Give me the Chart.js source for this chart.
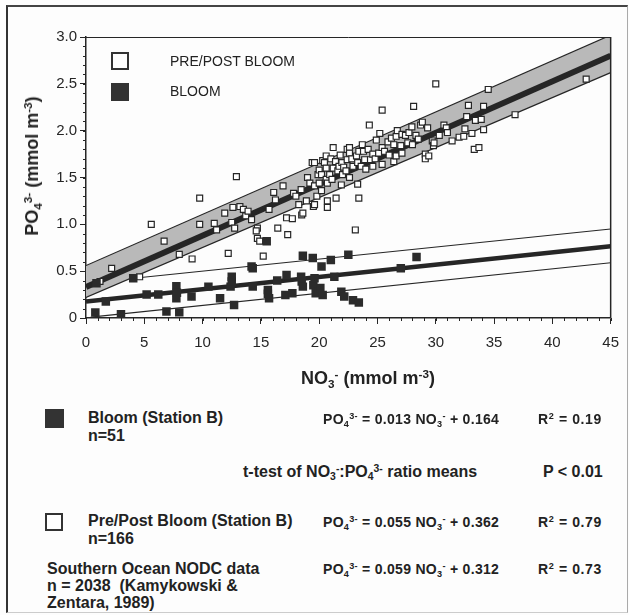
<!DOCTYPE html>
<html>
<head>
<meta charset="utf-8">
<script src="https://cdn.jsdelivr.net/npm/chart.js@4.4.0/dist/chart.umd.min.js"></script>
<style>
body { margin: 0; background: #fff; }
#wrap { position: relative; width: 629px; height: 615px; background: #fdfdfd; font-family: 'Liberation Sans', Arial, sans-serif; color: #222; overflow: hidden; }
#frame { position: absolute; left: 6px; top: 5px; width: 619px; height: 605px; border-left: 2px solid #333; border-top: 2px solid #444; border-right: 1px solid #aaa; border-bottom: 1px solid #ccc; }
canvas { position: absolute; left: 0; top: 0; }
.t { position: absolute; white-space: nowrap; line-height: 18px; }
.b { font-weight: bold; font-size: 16px; }
.eq { font-weight: bold; font-size: 14px; letter-spacing: 0.3px; }
.r { font-weight: bold; font-size: 14px; letter-spacing: 0.6px; }
.lg { font-size: 14px; }
.title { font-weight: bold; font-size: 18px; }
sub, sup { font-size: 65%; line-height: 0; position: relative; vertical-align: baseline; }
sup { top: -0.5em; }
sub { bottom: -0.3em; }
.sq { position: absolute; box-sizing: border-box; }
</style>
</head>
<body>
<div id="wrap">
  <div id="frame"></div>
  <canvas id="chart" width="629" height="400"></canvas>

  <div class="sq" style="left:111px;top:52px;width:18px;height:18px;border:2px solid #333;background:#fff"></div>
  <div class="t lg" style="left:170px;top:52px">PRE/POST BLOOM</div>
  <div class="sq" style="left:111px;top:83px;width:18px;height:18px;background:#333"></div>
  <div class="t lg" style="left:170px;top:82px">BLOOM</div>

  <div class="t title" style="left:32px;top:166px;transform:translate(-50%,-50%) rotate(-90deg)">PO<sub>4</sub><sup>3-</sup> (mmol m<sup>-3</sup>)</div>
  <div class="t title" style="left:368px;top:378px;transform:translate(-50%,-50%)">NO<sub>3</sub><sup>-</sup> (mmol m<sup>-3</sup>)</div>

  <div class="sq" style="left:45px;top:409px;width:19px;height:19px;background:#333"></div>
  <div class="t b" style="left:88px;top:409px">Bloom (Station B)</div>
  <div class="t b" style="left:88px;top:427px">n=51</div>
  <div class="t eq" style="left:323px;top:410px">PO<sub>4</sub><sup>3-</sup> = 0.013 NO<sub>3</sub><sup>-</sup> + 0.164</div>
  <div class="t r" style="left:538px;top:410px">R<sup>2</sup> = 0.19</div>

  <div class="t b" style="left:243px;top:463px">t-test of NO<sub>3</sub><sup>-</sup>:PO<sub>4</sub><sup>3-</sup> ratio means</div>
  <div class="t b" style="left:543px;top:463px">P &lt; 0.01</div>

  <div class="sq" style="left:45px;top:513px;width:18px;height:18px;border:2px solid #333;background:#fff"></div>
  <div class="t b" style="left:88px;top:512px">Pre/Post Bloom (Station B)</div>
  <div class="t b" style="left:88px;top:530px">n=166</div>
  <div class="t eq" style="left:323px;top:513px">PO<sub>4</sub><sup>3-</sup> = 0.055 NO<sub>3</sub><sup>-</sup> + 0.362</div>
  <div class="t r" style="left:538px;top:513px">R<sup>2</sup> = 0.79</div>

  <div class="t b" style="left:47px;top:560px">Southern Ocean NODC data</div>
  <div class="t b" style="left:47px;top:577px">n = 2038&nbsp;&nbsp;(Kamykowski &amp;</div>
  <div class="t b" style="left:47px;top:594px">Zentara, 1989)</div>
  <div class="t eq" style="left:323px;top:560px">PO<sub>4</sub><sup>3-</sup> = 0.059 NO<sub>3</sub><sup>-</sup> + 0.312</div>
  <div class="t r" style="left:538px;top:560px">R<sup>2</sup> = 0.73</div>
</div>
<script>
// NO3 (x) vs PO4 (y)
const bloomPoints = [
  [0.8,0.06],[0.9,0.37],[1.7,0.175],[3.0,0.04],[4.05,0.425],[5.2,0.25],[6.2,0.25],[6.9,0.07],
  [7.75,0.34],[7.75,0.21],[7.8,0.27],[8.0,0.06],[9.05,0.23],[10.5,0.335],[11.5,0.21],[12.4,0.335],
  [12.5,0.39],[12.5,0.44],[12.7,0.14],[14.2,0.55],[14.3,0.53],[14.3,0.335],[15.5,0.82],[15.6,0.26],
  [15.6,0.30],[15.7,0.21],[16.4,0.40],[17.1,0.245],[17.2,0.46],[17.7,0.265],[18.45,0.44],[18.5,0.39],
  [18.6,0.665],[18.6,0.335],[19.45,0.64],[19.5,0.35],[19.6,0.425],[19.7,0.265],[20.0,0.28],[20.1,0.32],
  [20.2,0.55],[20.3,0.245],[21.0,0.62],[21.3,0.44],[21.9,0.28],[22.15,0.23],[22.5,0.675],[22.9,0.19],
  [23.4,0.165],[27.0,0.53],[28.35,0.65]
];
const prePoints = [
  [1.2,0.39],[2.2,0.53],[4.6,0.44],[5.6,1.00],[6.7,0.82],[8.0,0.68],[9.1,0.63],[9.75,1.28],[9.75,1.00],
  [11.0,1.01],[11.2,0.94],[11.9,1.12],[12.2,0.69],[12.5,1.02],[12.6,1.18],[12.75,0.96],[12.9,1.51],
  [13.2,1.19],[13.5,1.16],[13.7,1.09],[13.9,1.14],[14.2,1.05],[14.7,0.96],[14.6,0.93],[14.7,0.85],
  [14.9,0.82],[15.2,0.66],[15.7,1.16],[16.1,1.34],[16.25,1.26],[16.45,0.96],[16.9,1.41],[17.2,1.07],
  [17.3,0.89],[17.7,1.06],[17.8,1.33],[18.0,1.30],[18.25,1.21],[18.45,1.37],[18.5,1.10],[18.6,1.12],
  [18.9,1.25],[19.0,1.50],[19.2,1.44],[19.4,1.66],[19.5,1.19],[19.6,1.21],[19.6,1.41],[19.6,1.66],
  [19.8,1.30],[19.9,1.53],[20.0,1.44],[20.0,1.58],[20.2,1.53],[20.2,1.36],[20.3,1.68],[20.45,1.66],
  [20.6,1.73],[20.6,1.60],[20.6,1.48],[20.7,1.44],[20.7,1.25],[20.7,1.18],[20.9,1.53],[21.0,1.70],
  [21.1,1.48],[21.2,1.82],[21.2,1.60],[21.4,1.67],[21.45,1.28],[21.6,1.57],[21.7,1.62],[21.8,1.74],
  [21.9,1.42],[21.95,1.66],[22.0,1.53],[22.1,1.61],[22.3,1.57],[22.4,1.69],[22.4,1.80],[22.6,1.82],
  [22.6,1.76],[22.6,1.50],[22.8,1.70],[22.9,1.62],[23.1,0.94],[23.2,1.73],[23.3,1.66],[23.3,1.43],
  [23.4,1.78],[23.4,1.28],[23.6,1.62],[23.7,1.85],[23.8,1.78],[23.9,1.69],[24.0,1.59],[24.2,1.80],
  [24.3,2.06],[24.4,1.69],[24.6,1.75],[24.6,1.62],[24.8,1.70],[24.9,1.90],[25.1,1.76],[25.2,1.97],
  [25.4,2.22],[25.4,1.82],[25.4,1.64],[25.6,1.78],[25.9,1.88],[26.0,1.74],[26.2,1.92],[26.4,1.85],
  [26.4,1.67],[26.6,1.94],[26.6,1.73],[26.7,2.00],[27.0,1.84],[27.1,1.96],[27.1,1.76],[27.4,1.95],
  [27.6,1.87],[27.7,1.98],[27.95,2.04],[28.0,1.85],[28.1,2.26],[28.3,1.95],[28.5,1.91],[28.7,2.06],
  [28.85,2.09],[29.1,1.75],[29.1,1.70],[29.3,2.03],[29.4,1.73],[29.7,1.89],[29.8,1.84],[29.85,1.87],
  [30.0,2.50],[30.3,1.95],[30.7,2.06],[30.9,2.03],[31.0,1.98],[31.4,1.89],[32.0,1.93],[32.4,1.94],
  [32.5,2.02],[32.65,2.15],[32.8,2.27],[33.1,1.97],[33.3,1.80],[33.4,2.11],[33.7,1.82],[33.9,2.12],
  [34.1,2.26],[34.1,2.01],[34.5,2.44],[36.8,2.17],[42.9,2.55]
];
// fitted lines and bands, end points
const preFitLine = [[0,0.33],[45,2.80]];
const oceanBandUpper = [[0,0.56],[45,3.02]];
const oceanBandLower = [[0,0.22],[45,2.62]];
const bloomFitLine = [[0,0.175],[45,0.765]];
const bloomBandUpper = [[4.5,0.43],[45,0.95]];
const bloomBandLower = [[0.4,0.01],[45,0.59]];

const toXY = arr => arr.map(p => ({ x: p[0], y: p[1] }));
const ink = '#262626';

function lineSet(points, width, order, extra) {
  return Object.assign({
    type: 'line',
    data: toXY(points),
    borderColor: ink,
    borderWidth: width,
    pointRadius: 0,
    fill: false,
    order: order
  }, extra || {});
}

const minorTicks = {
  id: 'minorTicks',
  afterDraw(chart) {
    const { ctx, chartArea: a, scales: { x, y } } = chart;
    ctx.save();
    ctx.strokeStyle = ink;
    ctx.lineWidth = 1;
    ctx.beginPath();
    for (let v = 0; v <= 45; v++) {
      const px = Math.round(x.getPixelForValue(v)) + 0.5;
      ctx.moveTo(px, a.bottom);
      ctx.lineTo(px, a.bottom + 3);
    }
    for (let i = 0; i <= 30; i++) {
      const py = Math.round(y.getPixelForValue(i / 10)) + 0.5;
      ctx.moveTo(a.left - 3, py);
      ctx.lineTo(a.left, py);
    }
    ctx.stroke();
    // top and right edges of the plot box
    ctx.beginPath();
    ctx.lineWidth = 1;
    ctx.moveTo(a.left, a.top + 0.5);
    ctx.lineTo(a.right, a.top + 0.5);
    ctx.stroke();
    ctx.beginPath();
    ctx.lineWidth = 1.5;
    ctx.moveTo(a.right, a.top);
    ctx.lineTo(a.right, a.bottom);
    ctx.stroke();
    ctx.restore();
  }
};

const ctx = document.querySelector('#chart').getContext('2d');
const chart = new Chart(ctx, {
  type: 'scatter',
  data: {
    datasets: [{
      label: 'Bloom',
      data: toXY(bloomPoints),
      pointStyle: 'rect',
      pointRadius: 6,
      backgroundColor: '#2b2b2b',
      borderColor: '#2b2b2b',
      borderWidth: 0,
      order: 0
    }, {
      label: 'Pre/Post Bloom',
      data: toXY(prePoints),
      pointStyle: 'rect',
      pointRadius: 4.2,
      backgroundColor: '#fff',
      borderColor: ink,
      borderWidth: 1.2,
      order: 1
    },
      lineSet(bloomFitLine, 4.5, 2),
      lineSet(preFitLine, 6, 3),
      lineSet(bloomBandUpper, 1.2, 4),
      lineSet(bloomBandLower, 1.2, 5),
      lineSet(oceanBandUpper, 1.2, 6, { fill: '+1', backgroundColor: '#b9b9b9' }),
      lineSet(oceanBandLower, 1.2, 7)
    ]
  },
  options: {
    responsive: false,
    animation: false,
    layout: { padding: { top: 37, right: 17, left: 0, bottom: 0 } },
    plugins: {
      legend: { display: false },
      tooltip: { enabled: false },
      filler: { drawTime: 'beforeDatasetsDraw' }
    },
    scales: {
      x: {
        type: 'linear',
        min: 0,
        max: 45,
        afterFit: s => { s.height = 82; },
        border: { color: ink, width: 1.5 },
        grid: { display: true, drawOnChartArea: false, tickLength: 6, color: ink },
        ticks: { stepSize: 5, padding: 10, color: ink, font: { family: 'Liberation Sans', size: 15 } }
      },
      y: {
        min: 0,
        max: 3,
        afterFit: s => { s.width = 86; },
        border: { color: ink, width: 1.5 },
        grid: { display: true, drawOnChartArea: false, tickLength: 6, color: ink },
        ticks: {
          stepSize: 0.5,
          padding: 3,
          color: ink,
          font: { family: 'Liberation Sans', size: 15 },
          callback: v => v === 0 ? '0' : v.toFixed(1)
        }
      }
    }
  },
  plugins: [minorTicks]
});
</script>
</body>
</html>
